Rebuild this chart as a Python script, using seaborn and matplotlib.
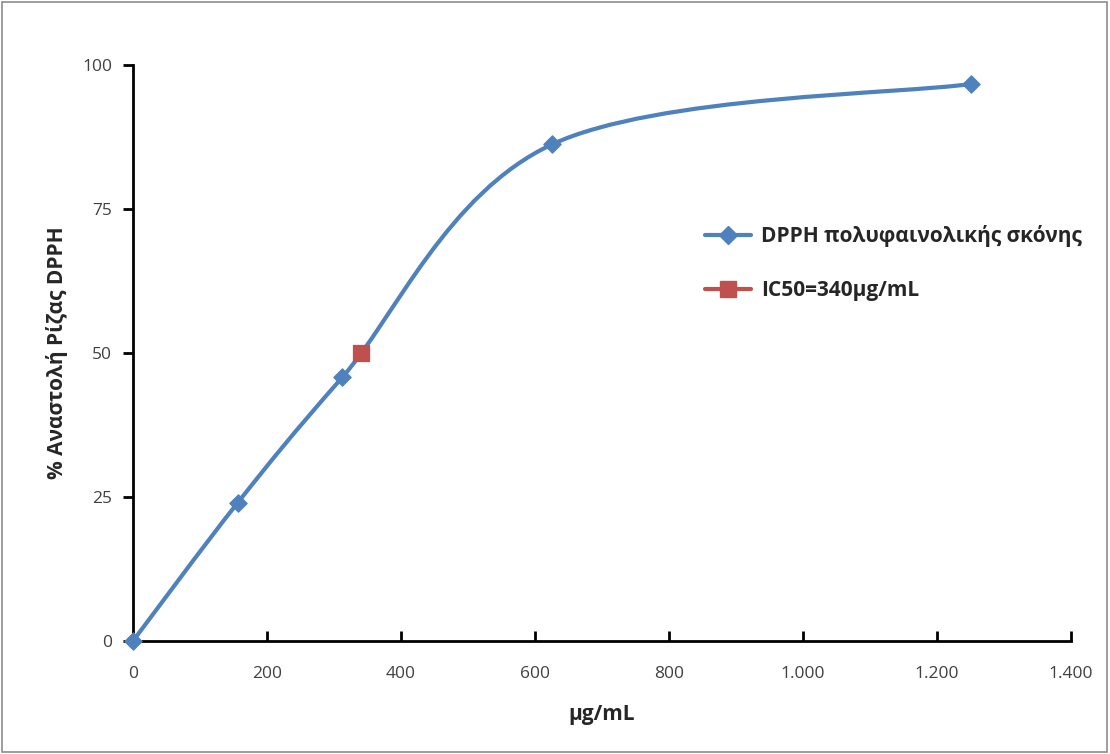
import matplotlib
matplotlib.use("Agg")
import matplotlib.pyplot as plt
from matplotlib.path import Path
from matplotlib.patches import PathPatch, Rectangle
from matplotlib.lines import Line2D
from matplotlib.ticker import FuncFormatter, MultipleLocator
import numpy as np
import seaborn as sns

# data
conc = [0, 156.25, 312.5, 625, 1250]
inhibition = [0, 24.0, 45.8, 86.2, 96.7]
ic50_x = [340]
ic50_y = [50]
series_label = "DPPH πολυφαινολικής σκόνης"
ic50_label = "IC50=340μg/mL"
x_label = "μg/mL"
y_label = "% Αναστολή Ρίζας DPPH"

blue = "#4F81BD"
red = "#C0504D"

sns.set_style("white")
plt.rcParams['font.family'] = ['Open Sans', 'DejaVu Sans']

fig = plt.figure(figsize=(11.1, 7.54), dpi=100)
ax = fig.add_axes([0.1198, 0.1499, 0.8452, 0.7639])

# smoothed line like Excel (Catmull-Rom bezier through the points)
pts = np.column_stack([conc, inhibition])
verts = [pts[0]]
codes = [Path.MOVETO]
n = len(pts)
for i in range(n - 1):
    p0 = pts[max(i - 1, 0)]
    p1 = pts[i]
    p2 = pts[i + 1]
    p3 = pts[min(i + 2, n - 1)]
    verts += [p1 + (p2 - p0) / 6, p2 - (p3 - p1) / 6, p2]
    codes += [Path.CURVE4] * 3
ax.add_patch(PathPatch(Path(verts, codes), fill=False, edgecolor=blue,
                       lw=3, transform=ax.transData, zorder=2))

sns.scatterplot(x=conc, y=inhibition, marker="D", s=80, color=blue,
                edgecolor=blue, ax=ax, zorder=3, clip_on=False)
sns.scatterplot(x=ic50_x, y=ic50_y, marker="s", s=130, color=red,
                edgecolor=red, ax=ax, zorder=4)

ax.set_xlim(0, 1400)
ax.set_ylim(0, 100)
ax.xaxis.set_major_locator(MultipleLocator(200))
ax.yaxis.set_major_locator(MultipleLocator(25))
ax.xaxis.set_major_formatter(FuncFormatter(lambda v, p: f"{v:,.0f}".replace(",", ".")))

for s in ["top", "right"]:
    ax.spines[s].set_visible(False)
for s in ["left", "bottom"]:
    ax.spines[s].set_color("black")
    ax.spines[s].set_linewidth(2)
ax.tick_params(axis="x", direction="in", length=7, width=2, colors="black",
               labelcolor="#404040", labelsize=12.5, pad=18)
ax.tick_params(axis="y", direction="out", length=7, width=2, colors="black",
               labelcolor="#404040", labelsize=12.5, pad=8)
ax.tick_params(left=True, bottom=True)

ax.set_xlabel(x_label, fontsize=15, fontweight="bold", labelpad=16)
ax.set_ylabel(y_label, fontsize=15, fontweight="bold", labelpad=10)

handles = [
    Line2D([], [], color=blue, lw=3, marker="D", markersize=9),
    Line2D([], [], color=red, lw=3, marker="s", markersize=12),
]
ax.legend(handles, [series_label, ic50_label], loc="upper left",
          bbox_to_anchor=(0.59, 0.755), frameon=False, handlelength=2.2,
          handletextpad=0.5, labelspacing=1.6, prop={"size": 15, "weight": "bold"})

fig.add_artist(Rectangle((0.002, 0.003), 0.995, 0.994, transform=fig.transFigure,
                         fill=False, edgecolor="#8c8c8c", lw=1.2))

fig.savefig("out.png", dpi=100)
